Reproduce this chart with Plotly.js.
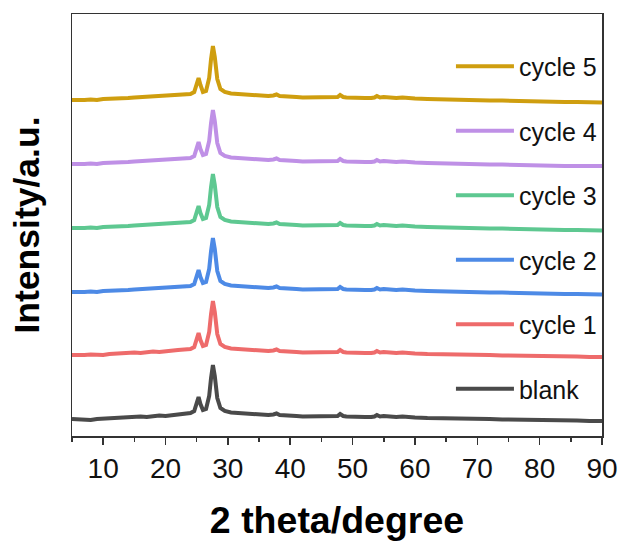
<!DOCTYPE html>
<html>
<head>
<meta charset="utf-8">
<script src="https://cdn.plot.ly/plotly-3.0.1.min.js"></script>
<style>html,body{margin:0;padding:0;background:#fff;}#chart{width:623px;height:545px;}</style>
</head>
<body>
<div id="chart"></div>
<script>
var twoTheta = [5,6,7,8,9,10,11,12,13,14,15,16,17,18,19,20,21,22,23,24,
  24.6,25.0,25.3,25.6,26.0,26.5,27.0,27.3,27.6,27.9,28.3,28.8,29.5,
  30.5,31.5,32.5,33.5,34.5,35.5,36.5,
  37.3,37.8,38.3,
  39,40,41,42,43,44,45,46,47,
  47.6,48.0,48.5,
  49,50,51,52,53,
  53.5,53.9,54.4,
  55,56,57,58,59,60,
  62,64,66,68,70,72,74,76,78,80,82,84,86,88,90];

var blank = [17,16.5,17,16,17,17.5,17,18,19,18.5,19,19.5,19,20,20.5,20,21,21.5,22.5,23,
  25,33,39,32,26,27,40,58,71,60,38,28,25,
  23.5,23,22,22,21,21,21,
  21.5,22.5,21,
  20.5,20,20,19.5,19.5,19,19.5,19,19.5,
  20,22,20,
  19.5,19,19,19,19,
  19.5,21,19.5,
  20,19,19,19.5,18.5,18.5,
  18,18,17.5,17,17,17,16.5,16.5,16,16,16,15.5,15.5,15,15];

var cycle1 = [81,80.5,81,81.5,81,81,82,82.5,82,83,83.5,83,84,84.5,84,85,85.5,86,86.5,87,
  89,97,103,96,90,91,104,122,135,124,102,92,89,
  87.5,87,86.5,86,85.5,85,85,
  85.5,86.5,85,
  84.5,84,84,83.5,83.5,83,83.5,83,83.5,
  84,86,84,
  83.5,83,83,83,83,
  83.5,85,83.5,
  84,83,83,83.5,82.5,82.5,
  82,82,81.5,81,81,81,80.5,80.5,80,80,80,79.5,79.5,79,79];

var cycle2 = [144,143.5,144,144.5,144,145,145,145.5,146,146,146.5,147,147,147.5,148,148,148.5,149,149.5,150,
  152,160,166,159,153,154,167,185,198,187,165,155,152,
  150.5,150,149,149,148,148,148,
  148.5,149.5,148,
  147.5,147,147,146.5,146.5,146,146.5,146,146.5,
  147,149,147,
  146.5,146,146,146,146,
  146.5,148,146.5,
  147,146,146,146.5,145.5,145.5,
  145,144.5,144.5,144,144,143.5,143.5,143,143,142.5,142.5,142,142,141.5,141.5];

var cycle3 = [208,207.5,208,208.5,208,209,209,209.5,210,210,210.5,211,211,211.5,212,212,212.5,213,213.5,214,
  216,224,230,223,217,218,231,249,262,251,229,219,216,
  214.5,214,213,213,212,212,212,
  212.5,213.5,212,
  211.5,211,211,210.5,210.5,210,210.5,210,210.5,
  211,213,211,
  210.5,210,210,210,210,
  210.5,212,210.5,
  211,210,210,210.5,209.5,209.5,
  209,208.5,208.5,208,208,207.5,207.5,207,207,206.5,206.5,206,206,205.5,205.5];

var cycle4 = [272,271.5,272,272.5,272,273,273,273.5,274,274,274.5,275,275,275.5,276,276,276.5,277,277.5,278,
  280,288,294,287,281,282,295,313,326,315,293,283,280,
  278.5,278,277,277,276,276,276,
  276.5,277.5,276,
  275.5,275,275,274.5,274.5,274,274.5,274,274.5,
  275,277,275,
  274.5,274,274,274,274,
  274.5,276,274.5,
  275,274,274,274.5,273.5,273.5,
  273,272.5,272.5,272,272,271.5,271.5,271,271,270.5,270.5,270,270,270,270];

var cycle5 = [336,335.5,336,336.5,336,337,337,337.5,338,338,338.5,339,339,339.5,340,340,340.5,341,341.5,342,
  344,352,358,351,344,345,358,377,390,379,357,347,344,
  342.5,342,341,341,340,340,340,
  340.5,341.5,340,
  339.5,339,339,338.5,338.5,338,338.5,338,338.5,
  339,341,339,
  338.5,338,338,338,338,
  338.5,340,338.5,
  339,338,338,338.5,337.5,337.5,
  337,336.5,336.5,336,336,335.5,335.5,335,335,334.5,334.5,334,334,333.5,333.5];

var seriesNames = ['blank','cycle 1','cycle 2','cycle 3','cycle 4','cycle 5'];
var seriesData = [blank, cycle1, cycle2, cycle3, cycle4, cycle5];
var seriesColors = ['#4a4a4a','#ee6b6b','#4d8ae6','#5ec891','#bf90e6','#cf9e0f'];
var xTicks = [10,20,30,40,50,60,70,80,90];

var traces = seriesData.map(function(d, i){
  return {
    x: twoTheta, y: d, type: 'scatter', mode: 'lines',
    name: seriesNames[i], legendgroup: 'g' + i, legendrank: 100 - i,
    line: {color: seriesColors[i], width: 4}
  };
});

var font = 'Arial, "Liberation Sans", sans-serif';
var layout = {
  width: 623, height: 545,
  margin: {l: 72, r: 21, t: 14, b: 109},
  paper_bgcolor: '#fff', plot_bgcolor: '#fff',
  font: {family: font, color: '#000'},
  showlegend: true,
  legend: {
    x: 0.715, y: 0.93, xanchor: 'left', yanchor: 'top',
    traceorder: 'grouped', tracegroupgap: 29,
    font: {size: 25, family: font, color: '#111'},
    bgcolor: 'rgba(0,0,0,0)', itemwidth: 58
  },
  xaxis: {
    range: [5, 90], tickmode: 'array', tickvals: xTicks, ticktext: xTicks.map(String),
    ticks: 'outside', ticklen: 7, tickwidth: 1.5, tickcolor: '#333',
    minor: {dtick: 5, tick0: 5, ticks: 'outside', ticklen: 4, tickwidth: 1.5, tickcolor: '#333'},
    showline: true, linecolor: '#333', linewidth: 1.5, mirror: true,
    showgrid: false, zeroline: false,
    tickfont: {size: 28, family: font, color: '#111'},
    title: {text: '<b>2 theta/degree</b>', font: {size: 37.5, family: font, color: '#000'}, standoff: 23}
  },
  yaxis: {
    range: [0, 422], showticklabels: false, ticks: '',
    showline: true, linecolor: '#333', linewidth: 1.5, mirror: true,
    showgrid: false, zeroline: false,
    title: {text: '<b>Intensity/a.u.</b>', font: {size: 35.5, family: font, color: '#000'}, standoff: 20}
  }
};

Plotly.newPlot('chart', traces, layout, {displayModeBar: false, staticPlot: true});
</script>
</body>
</html>
